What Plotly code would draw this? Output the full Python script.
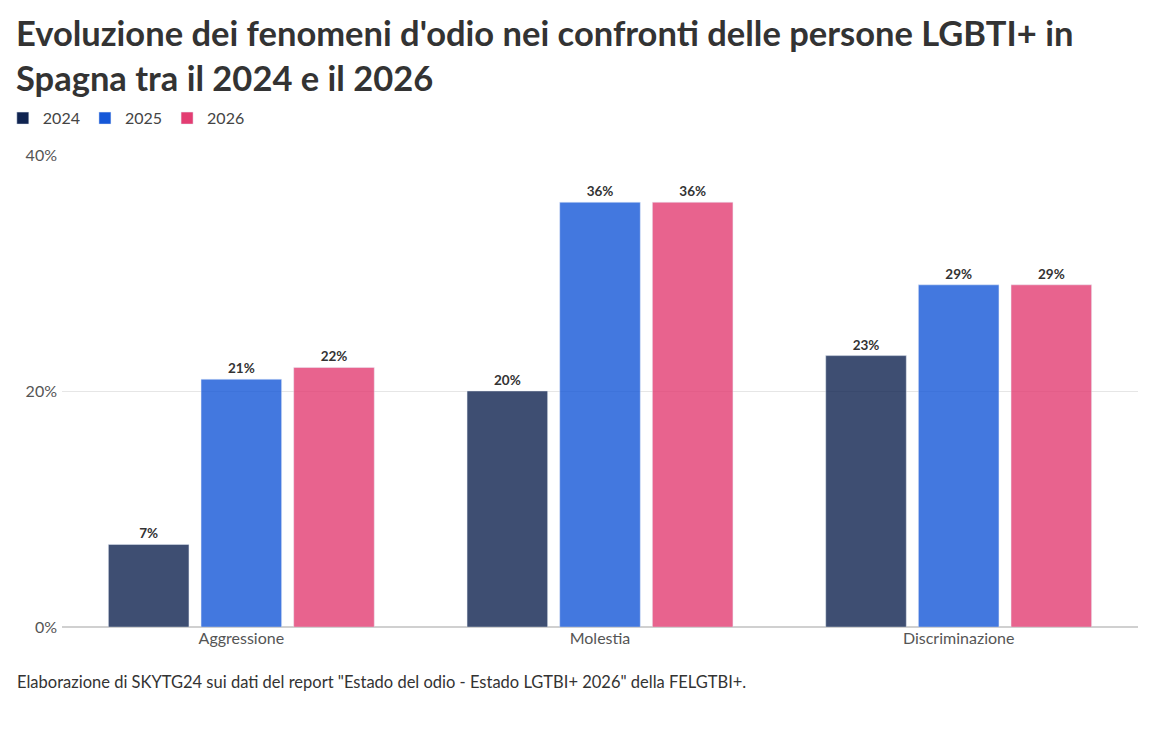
import plotly.graph_objects as go

categories = ["Aggressione", "Molestia", "Discriminazione"]
years = ["2024", "2025", "2026"]
values_2024 = [7, 20, 23]
values_2025 = [21, 36, 29]
values_2026 = [22, 36, 29]
colors = ["#0f2350", "#1557d8", "#e33d72"]

fig = go.Figure()
for name, vals, col in zip(years, [values_2024, values_2025, values_2026], colors):
    fig.add_trace(go.Bar(
        x=categories, y=vals, name=name,
        marker=dict(color=col, opacity=0.8),
        text=[f"<b>{v}%</b>" for v in vals], textposition="outside",
        textfont=dict(size=13.5, color="#333333"),
        cliponaxis=False,
    ))

fig.update_layout(
    width=1156, height=741,
    paper_bgcolor="white", plot_bgcolor="white",
    font=dict(family="Lato, Noto Sans", color="#444444", size=16),
    margin=dict(l=54, r=26, t=147, b=122, autoexpand=False),
    barmode="group", bargap=0.225, bargroupgap=0.13,
    legend=dict(orientation="h", x=-0.055, xanchor="left", y=1.078, yanchor="middle",
                font=dict(size=16, color="#444444"), itemwidth=30, traceorder="normal",
                tracegroupgap=0),
    yaxis=dict(range=[0, 40], tickvals=[0, 20, 40], ticktext=["0%", "20%", "40%"],
               gridcolor="#e6e6e6", zeroline=True, zerolinecolor="#d0d0d0",
               tickfont=dict(size=16, color="#555555"), ticklabelstandoff=4),
    xaxis=dict(tickfont=dict(size=16, color="#555555"), showline=False),
    annotations=[
        dict(
            text="<b>Evoluzione dei fenomeni d'odio nei confronti delle persone LGBTI+ in<br>Spagna tra il 2024 e il 2026</b>",
            xref="paper", yref="paper", x=-0.045, y=1.307, xanchor="left", yanchor="top",
            align="left", showarrow=False, font=dict(size=34.5, color="#333333"),
        ),
        dict(
            text='Elaborazione di SKYTG24 sui dati del report "Estado del odio - Estado LGTBI+ 2026" della FELGTBI+.',
            xref="paper", yref="paper", x=-0.044, y=-0.091, xanchor="left", yanchor="top",
            showarrow=False, font=dict(size=16.5, color="#333333"),
        ),
    ],
)
fig.write_html("out.html")
